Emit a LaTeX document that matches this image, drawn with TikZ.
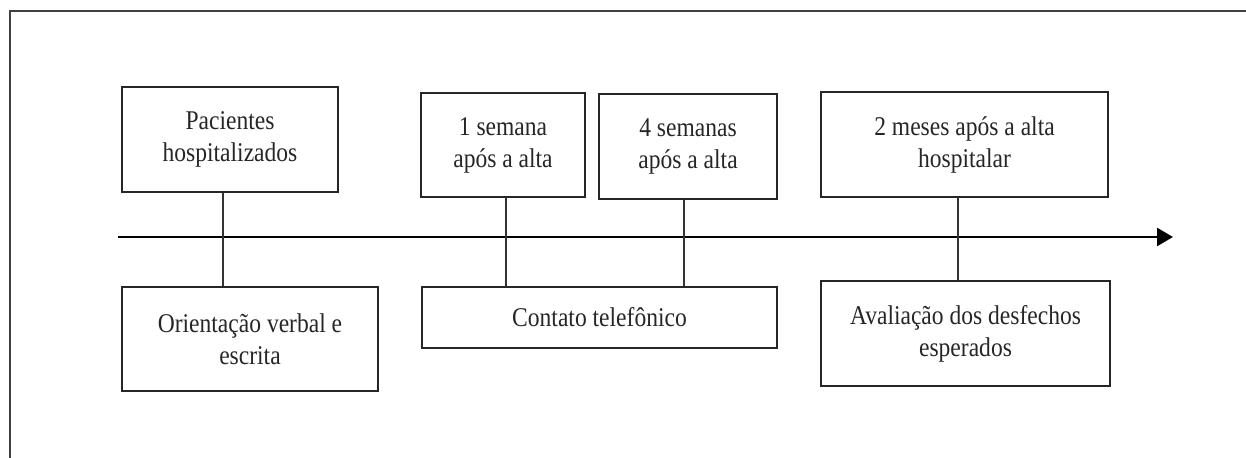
\documentclass[tikz,border=0pt]{standalone}
\usepackage{fontspec}
\setmainfont[FakeStretch=0.87]{Liberation Serif}
\usetikzlibrary{arrows.meta,calc}

\tikzset{
  etapa/.style={draw=black!85, line width=1.1pt, align=center, inner sep=2pt,
    text=black!85, font=\fontsize{15.4}{18.2}\selectfont},
  ligacao/.style={draw=black!80, line width=0.8pt}
}

\begin{document}
\begin{tikzpicture}[scale=1]

	\useasboundingbox (0,0) rectangle (24.92,9.16);
	% moldura (so os lados esquerdo e de cima)
	\draw[black!75, line width=0.8pt] (0.2,0) -- (0.2,8.94) -- (24.92,8.94);

	% eixo do tempo
	\coordinate (inicio) at (2.36,4.42);
	\coordinate (fim) at (23.46,4.42);
	\draw[line width=1.5pt,-{Triangle[length=0.32cm,width=0.36cm]}] (inicio) -- (fim);

	% caixas de cima
	\node[etapa, minimum width=4.32cm, minimum height=2.1cm] (pac) at (4.6,6.37) {Pacientes\\hospitalizados};
	\node[etapa, minimum width=3.28cm, minimum height=2.08cm] (sem1) at (10.06,6.26) {1 semana\\após a alta};
	\node[etapa, minimum width=3.56cm, minimum height=2.1cm] (sem4) at (13.76,6.23) {4 semanas\\após a alta};
	\node[etapa, minimum width=5.74cm, minimum height=2.1cm] (mes2) at (19.29,6.27) {2 meses após a alta\\hospitalar};

	% caixas de baixo
	\node[etapa, minimum width=5.12cm, minimum height=2.08cm] (ori) at (5.0,2.38) {Orientação verbal e\\escrita};
	\node[etapa, minimum width=7.1cm, minimum height=1.22cm] (tel) at (11.99,2.81) {Contato telefônico};
	\node[etapa, minimum width=5.78cm, minimum height=2.1cm] (aval) at (19.31,2.49) {Avaliação dos desfechos\\esperados};

	% ligacoes verticais
	\draw[ligacao] ([xshift=-0.14cm]pac.south) -- ([xshift=-0.14cm]pac.south |- ori.north);
	\draw[ligacao] ([xshift=0.06cm]sem1.south) -- ([xshift=0.06cm]sem1.south |- tel.north);
	\draw[ligacao] ([xshift=-0.08cm]sem4.south) -- ([xshift=-0.08cm]sem4.south |- tel.north);
	\draw[ligacao] ([xshift=-0.13cm]mes2.south) -- ([xshift=-0.13cm]mes2.south |- aval.north);

\end{tikzpicture}
\end{document}
